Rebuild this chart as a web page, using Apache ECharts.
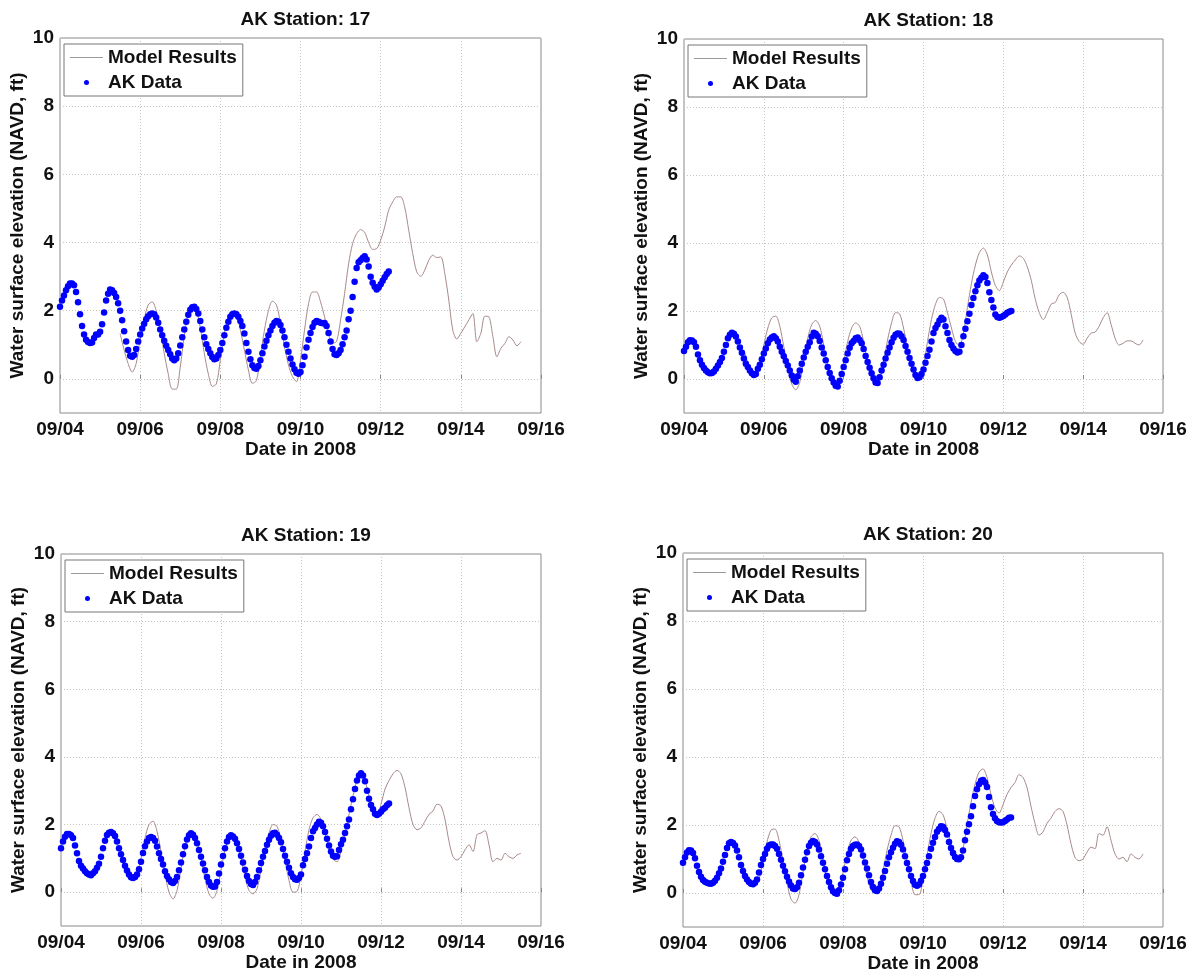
<!DOCTYPE html>
<html>
<head>
<meta charset="utf-8">
<script src="https://cdn.jsdelivr.net/npm/echarts@6/dist/echarts.min.js"></script>
<style>html,body{margin:0;padding:0;background:#fff}#c{width:1195px;height:975px}</style>
</head>
<body>
<div id="c"></div>
<script>
// ---- data (times in day-of-September 2008) ----
const stations = ['17', '18', '19', '20'];
const xTicks = [4, 6, 8, 10, 12, 14, 16];
const yTicks = [0, 2, 4, 6, 8, 10];
const DATA_START = 4.0, DATA_STEP = 0.05;   // AK Data sampling
const MODEL_START = 5.5, MODEL_STEP = 0.1;  // Model output sampling

const data17 = [
2.12,2.3,2.45,2.6,2.72,2.8,2.8,2.75,2.55,2.25,1.9,1.55,1.3,1.15,1.08,1.05,1.07,1.2,1.3,1.3,
1.38,1.6,1.95,2.3,2.5,2.62,2.6,2.52,2.4,2.22,2.0,1.72,1.4,1.1,0.85,0.68,0.65,0.7,0.88,1.1,
1.3,1.48,1.62,1.75,1.84,1.9,1.92,1.9,1.8,1.65,1.45,1.28,1.12,0.97,0.85,0.72,0.6,0.55,0.6,0.75,
0.98,1.22,1.45,1.68,1.88,2.03,2.1,2.12,2.05,1.92,1.7,1.45,1.22,1.02,0.88,0.75,0.64,0.58,0.6,0.7,
0.85,1.05,1.28,1.5,1.68,1.82,1.9,1.92,1.9,1.82,1.7,1.55,1.33,1.05,0.8,0.58,0.4,0.32,0.3,0.38,
0.55,0.75,0.95,1.12,1.28,1.42,1.55,1.65,1.7,1.68,1.58,1.42,1.22,1.0,0.8,0.6,0.42,0.28,0.18,0.15,
0.2,0.4,0.65,0.92,1.15,1.35,1.52,1.65,1.7,1.68,1.65,1.63,1.64,1.55,1.35,1.1,0.88,0.72,0.7,0.75,
0.85,1.02,1.22,1.42,1.75,2.0,2.4,2.85,3.25,3.42,3.48,3.55,3.6,3.5,3.3,3.0,2.82,2.7,2.62,2.68,
2.78,2.88,2.98,3.08,3.15];
const model17 = [
1.33,0.85,0.45,0.2,0.45,1.15,1.75,2.17,2.26,2.0,
1.45,0.75,0.15,-0.3,-0.3,0.35,1.25,1.9,2.1,2.0,
1.5,0.75,0.15,-0.22,-0.15,0.55,1.33,1.82,1.97,1.92,
1.43,0.85,0.26,-0.13,-0.05,0.65,1.43,2.0,2.28,2.17,
1.63,0.95,0.41,0.07,-0.08,0.55,1.43,2.2,2.55,2.55,
2.26,1.82,1.33,1.05,1.1,1.73,2.5,3.38,3.97,4.26,
4.38,4.3,4.0,3.8,3.82,4.07,4.46,4.95,5.19,5.34,
5.34,5.04,4.36,3.68,3.14,3.01,3.19,3.48,3.63,3.56,
3.58,3.09,2.31,1.43,1.17,1.34,1.53,1.73,1.92,1.09,
1.34,1.84,1.82,1.24,0.65,0.9,1.04,1.24,1.14,0.97,
1.09];

const data18 = [
0.82,0.95,1.08,1.14,1.13,1.08,0.95,0.72,0.55,0.42,0.32,0.25,0.2,0.17,0.18,0.22,0.3,0.4,0.5,0.62,
0.8,1.0,1.2,1.3,1.36,1.33,1.25,1.1,0.93,0.77,0.6,0.45,0.35,0.25,0.17,0.12,0.15,0.3,0.42,0.58,
0.75,0.9,1.05,1.16,1.22,1.26,1.2,1.1,0.95,0.8,0.67,0.53,0.4,0.25,0.1,-0.02,-0.08,0.08,0.25,0.45,
0.63,0.8,0.95,1.08,1.25,1.36,1.33,1.26,1.12,0.93,0.75,0.55,0.35,0.18,0.02,-0.1,-0.2,-0.22,-0.05,0.15,
0.35,0.55,0.75,0.92,1.05,1.12,1.2,1.22,1.15,1.05,0.88,0.68,0.5,0.33,0.17,0.02,-0.1,-0.12,0.05,0.25,
0.42,0.6,0.77,0.93,1.08,1.21,1.3,1.34,1.33,1.26,1.15,0.97,0.8,0.62,0.45,0.28,0.12,0.03,0.05,0.15,
0.28,0.48,0.68,0.86,1.1,1.35,1.5,1.6,1.72,1.8,1.75,1.55,1.35,1.15,1.0,0.9,0.82,0.78,0.8,1.0,
1.26,1.48,1.7,1.92,2.18,2.38,2.58,2.76,2.9,2.98,3.05,3.0,2.82,2.55,2.32,2.1,1.9,1.82,1.8,1.82,
1.85,1.9,1.95,1.98,2.0];
const model18 = [
0.86,0.47,0.18,0.12,0.4,1.0,1.5,1.8,1.85,1.55,
0.95,0.35,-0.15,-0.32,-0.1,0.55,1.2,1.6,1.72,1.55,
1.0,0.4,-0.05,-0.25,-0.05,0.5,1.1,1.5,1.65,1.55,
1.1,0.5,0.0,-0.17,0.0,0.5,1.15,1.65,1.95,1.92,
1.5,0.9,0.35,0.05,0.0,0.4,1.1,1.75,2.2,2.4,
2.35,1.95,1.5,1.1,0.98,1.35,2.1,2.8,3.35,3.72,
3.85,3.65,3.15,2.75,2.6,2.85,3.15,3.35,3.5,3.62,
3.55,3.3,2.9,2.35,1.95,1.75,1.95,2.2,2.25,2.48,
2.55,2.4,1.9,1.35,1.1,1.02,1.2,1.35,1.38,1.55,
1.8,1.95,1.6,1.2,1.0,1.05,1.12,1.12,1.05,1.0,
1.15];

const data19 = [
1.3,1.5,1.64,1.72,1.72,1.68,1.6,1.38,1.15,0.92,0.78,0.7,0.62,0.56,0.52,0.5,0.56,0.62,0.72,0.84,
1.05,1.3,1.52,1.69,1.76,1.78,1.74,1.66,1.5,1.3,1.12,0.95,0.78,0.64,0.52,0.44,0.42,0.45,0.52,0.68,
0.9,1.16,1.36,1.5,1.6,1.63,1.6,1.52,1.35,1.15,0.98,0.82,0.62,0.48,0.38,0.3,0.27,0.33,0.45,0.65,
0.88,1.12,1.36,1.56,1.68,1.74,1.7,1.6,1.45,1.25,1.05,0.85,0.65,0.45,0.3,0.2,0.16,0.17,0.3,0.55,
0.82,1.07,1.3,1.5,1.63,1.68,1.65,1.58,1.45,1.28,1.08,0.88,0.66,0.48,0.33,0.24,0.21,0.3,0.45,0.65,
0.86,1.05,1.22,1.4,1.55,1.67,1.74,1.76,1.7,1.6,1.48,1.28,1.08,0.9,0.72,0.56,0.45,0.38,0.37,0.42,
0.52,0.8,0.98,1.15,1.35,1.6,1.8,1.9,2.0,2.08,2.05,1.95,1.78,1.58,1.38,1.2,1.08,1.05,1.06,1.25,
1.42,1.55,1.75,1.95,2.15,2.45,2.75,3.05,3.3,3.45,3.52,3.45,3.28,3.0,2.76,2.58,2.45,2.32,2.28,2.32,
2.38,2.45,2.5,2.57,2.62];
const model19 = [
1.15,0.8,0.5,0.4,0.55,1.0,1.6,2.0,2.1,1.8,
1.2,0.55,0.0,-0.2,0.05,0.7,1.35,1.68,1.72,1.5,
1.0,0.4,-0.05,-0.18,0.05,0.65,1.25,1.58,1.62,1.45,
1.0,0.45,0.05,-0.05,0.1,0.65,1.3,1.75,2.0,1.95,
1.55,0.95,0.35,0.0,0.02,0.5,1.2,1.85,2.2,2.3,
2.15,1.75,1.3,0.98,0.9,1.2,1.75,2.3,2.85,3.3,
3.5,3.3,2.85,2.45,2.3,2.6,3.05,3.3,3.5,3.6,
3.5,3.1,2.5,2.0,1.85,1.9,2.1,2.3,2.4,2.6,
2.55,2.15,1.5,1.05,0.95,1.05,1.25,1.4,1.2,1.7,
1.75,1.82,1.4,0.9,1.0,0.95,1.15,1.05,1.0,1.1,
1.15];

const data20 = [
0.89,1.05,1.19,1.26,1.25,1.18,1.02,0.8,0.62,0.48,0.38,0.33,0.3,0.28,0.27,0.3,0.36,0.45,0.58,0.72,
0.92,1.12,1.32,1.46,1.5,1.47,1.4,1.25,1.05,0.82,0.65,0.5,0.4,0.32,0.27,0.26,0.3,0.4,0.6,0.82,
1.0,1.15,1.3,1.4,1.43,1.43,1.38,1.3,1.15,0.98,0.8,0.64,0.48,0.34,0.22,0.13,0.12,0.17,0.3,0.52,
0.75,0.98,1.2,1.38,1.48,1.53,1.5,1.43,1.28,1.08,0.89,0.7,0.5,0.32,0.17,0.05,0.0,-0.02,0.08,0.25,
0.45,0.7,0.96,1.15,1.3,1.38,1.42,1.43,1.38,1.28,1.1,0.9,0.72,0.52,0.32,0.18,0.08,0.06,0.13,0.27,
0.45,0.65,0.86,1.05,1.2,1.33,1.45,1.52,1.5,1.42,1.28,1.08,0.88,0.7,0.5,0.35,0.24,0.21,0.25,0.36,
0.5,0.7,0.88,1.08,1.3,1.48,1.65,1.8,1.88,1.96,1.95,1.85,1.72,1.5,1.32,1.18,1.06,1.0,0.99,1.05,
1.25,1.55,1.8,2.02,2.26,2.55,2.85,3.05,3.2,3.3,3.32,3.25,3.12,2.82,2.52,2.32,2.2,2.12,2.08,2.07,
2.08,2.12,2.16,2.21,2.22];
const model20 = [
0.85,0.45,0.25,0.22,0.4,0.95,1.5,1.85,1.88,1.55,
0.95,0.3,-0.18,-0.3,-0.05,0.6,1.25,1.65,1.75,1.55,
1.0,0.4,0.0,-0.08,0.1,0.6,1.15,1.55,1.65,1.5,
1.05,0.5,0.1,0.0,0.15,0.65,1.25,1.7,1.98,1.95,
1.55,0.95,0.35,-0.05,-0.05,0.4,1.1,1.75,2.2,2.4,
2.3,1.9,1.45,1.1,1.0,1.3,2.0,2.65,3.2,3.55,
3.65,3.4,2.9,2.5,2.35,2.6,2.9,3.1,3.25,3.48,
3.4,3.1,2.55,2.05,1.7,1.8,2.05,2.2,2.4,2.48,
2.4,2.0,1.45,1.05,0.95,1.0,1.2,1.35,1.3,1.75,
1.7,1.95,1.55,1.15,1.0,1.05,0.92,1.15,1.05,1.0,
1.15];

const dataSets = [data17, data18, data19, data20];
const modelSets = [model17, model18, model19, model20];

// ---- layout ----
const grids = [
  {left: 60, top: 38, width: 481, height: 375},
  {left: 684, top: 39, width: 479, height: 374},
  {left: 61, top: 554, width: 480, height: 372},
  {left: 683, top: 553, width: 480, height: 374}
];
const FONT = "'Liberation Sans', Arial, sans-serif";
const FS = 19;
const MODEL_COLOR = '#a88a8a';

function pairs(vals, start, step) {
  return vals.map((v, i) => [Math.round((start + i * step) * 1000) / 1000, v]);
}

const option = {
  animation: false,
  backgroundColor: '#fff',
  textStyle: {fontFamily: FONT},
  title: grids.map((g, i) => ({
    text: 'AK Station: ' + stations[i],
    left: g.left + g.width / 2,
    textAlign: 'center',
    top: g.top - 33,
    textStyle: {fontFamily: FONT, fontSize: FS, fontWeight: 'bold', color: '#111'}
  })),
  legend: grids.map((g, i) => ({
    left: g.left + 4,
    top: g.top + 6,
    orient: 'vertical',
    data: [
      {name: 'Model Results', icon: 'path://M0,0 L40,0 L40,1.2 L0,1.2 Z', itemStyle: {color: '#9a9a9a'}},
      {name: 'AK Data', icon: 'circle'}
    ],
    itemWidth: 33,
    itemHeight: 5,
    itemGap: 6,
    padding: [4, 6, 4, 6],
    borderColor: '#777',
    borderWidth: 1,
    backgroundColor: '#fff',
    selectedMode: false,
    textStyle: {fontFamily: FONT, fontSize: FS, fontWeight: 'bold', color: '#111', lineHeight: 19}
  })),
  grid: grids.map(g => ({
    left: g.left, top: g.top, width: g.width, height: g.height,
    show: true, borderColor: '#8a8a8a', borderWidth: 1, backgroundColor: 'transparent'
  })),
  xAxis: grids.map((g, i) => ({
    gridIndex: i,
    type: 'value',
    min: xTicks[0], max: xTicks[xTicks.length - 1], interval: 2,
    name: 'Date in 2008',
    nameLocation: 'middle',
    nameGap: 27,
    nameTextStyle: {fontFamily: FONT, fontSize: FS, fontWeight: 'bold', color: '#111'},
    axisLine: {show: false},
    axisTick: {show: true, inside: true, length: 4, lineStyle: {color: '#888'}},
    axisLabel: {
      fontFamily: FONT, fontSize: FS, fontWeight: 'bold', color: '#111', margin: 7,
      formatter: v => '09/' + (v < 10 ? '0' : '') + v
    },
    splitLine: {show: true, lineStyle: {color: '#c4c4c4', type: [1, 2], width: 1}}
  })),
  yAxis: grids.map((g, i) => ({
    gridIndex: i,
    type: 'value',
    min: -1, max: 10, interval: 1,
    name: 'Water surface elevation (NAVD, ft)',
    nameLocation: 'middle',
    nameGap: 33,
    nameTextStyle: {fontFamily: FONT, fontSize: FS, fontWeight: 'bold', color: '#111'},
    axisLine: {show: false},
    axisTick: {show: false},
    axisLabel: {
      fontFamily: FONT, fontSize: FS, fontWeight: 'bold', color: '#111', margin: 6,
      formatter: v => (yTicks.indexOf(v) >= 0 ? String(v) : '')
    },
    splitLine: {
      show: true, showMinLine: true,
      lineStyle: {color: ['rgba(0,0,0,0)', '#c4c4c4'], type: [1, 2], width: 1}
    }
  })),
  series: []
};

for (let i = 0; i < 4; i++) {
  option.series.push({
    name: 'Model Results',
    type: 'line',
    xAxisIndex: i, yAxisIndex: i,
    data: pairs(modelSets[i], MODEL_START, MODEL_STEP),
    symbol: 'none',
    smooth: 0.3,
    lineStyle: {color: MODEL_COLOR, width: 1},
    itemStyle: {color: MODEL_COLOR},
    z: 2
  });
  option.series.push({
    name: 'AK Data',
    type: 'scatter',
    xAxisIndex: i, yAxisIndex: i,
    data: pairs(dataSets[i], DATA_START, DATA_STEP),
    symbol: 'circle',
    symbolSize: 6.5,
    itemStyle: {color: '#0000ff', opacity: 1},
    z: 3
  });
}

const chart = echarts.init(document.getElementById('c'), null, {renderer: 'canvas'});
chart.setOption(option);
</script>
</body>
</html>
